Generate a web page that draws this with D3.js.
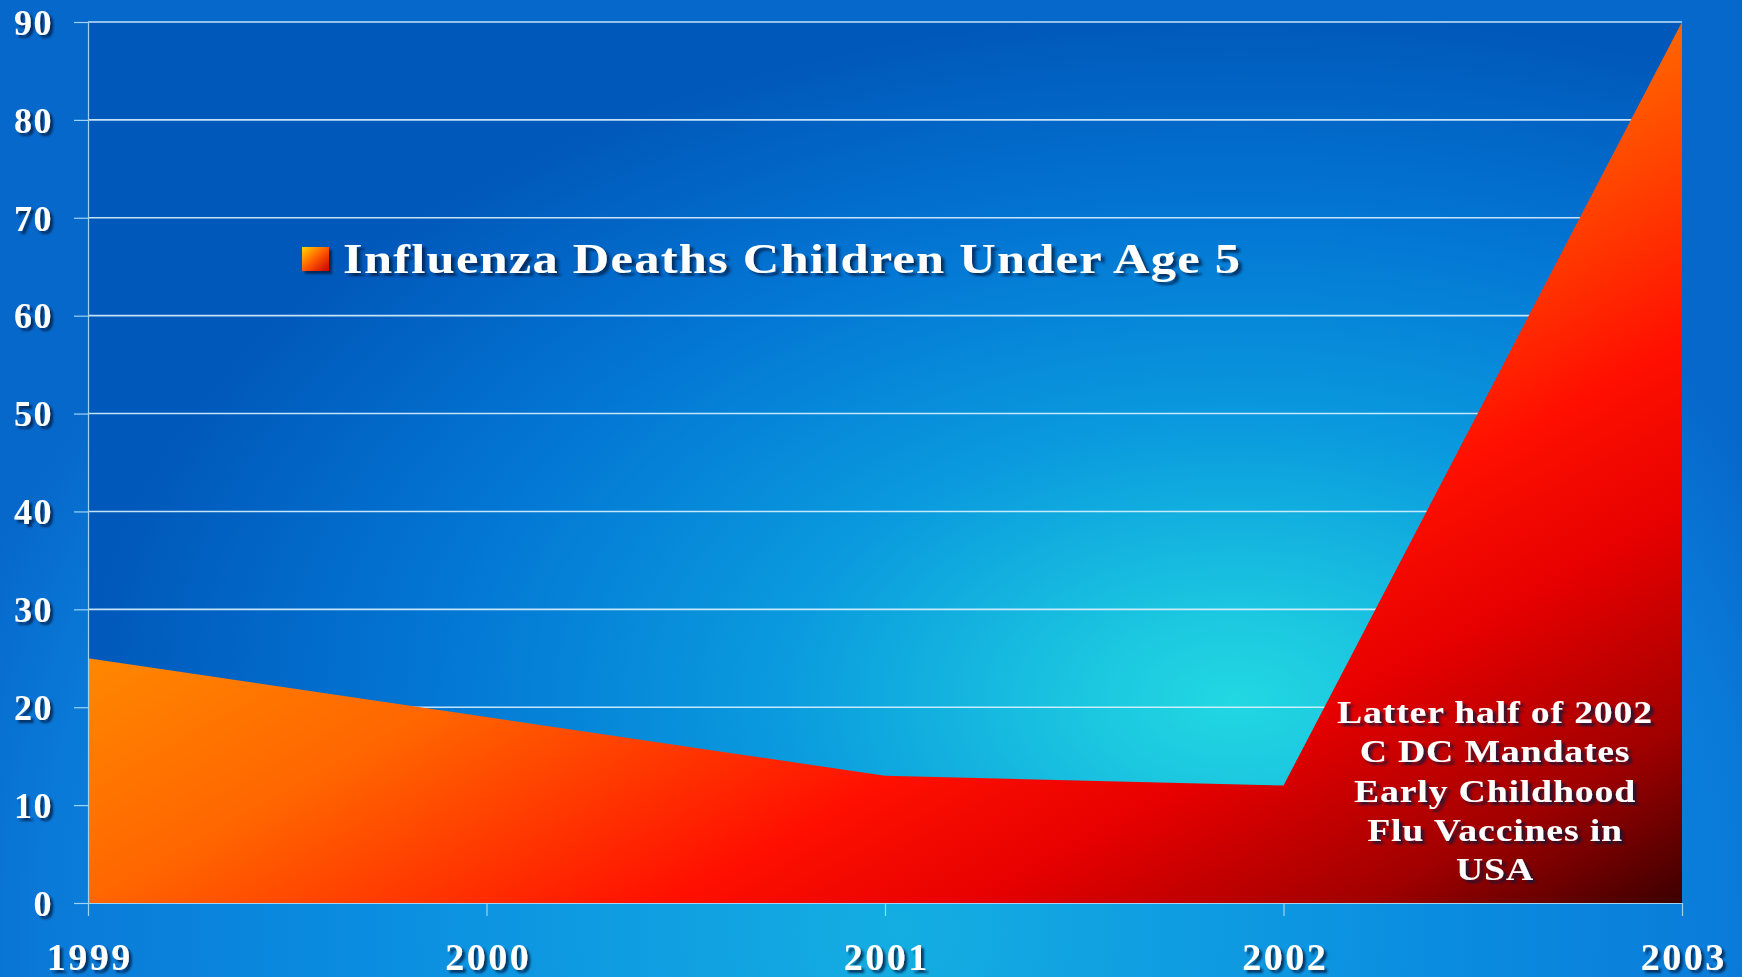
<!DOCTYPE html>
<html>
<head>
<meta charset="utf-8">
<script src="https://cdn.jsdelivr.net/npm/d3@7"></script>
<style>
  html, body { margin: 0; padding: 0; overflow: hidden; background: #0a7ad8; }
  svg { display: block; }
</style>
</head>
<body>
<script>
// ---- data ----
const years = [1999, 2000, 2001, 2002, 2003];
const deaths = [25, 19, 13, 12, 90];
const yTicks = [0, 10, 20, 30, 40, 50, 60, 70, 80, 90];
const seriesName = "Influenza Deaths Children Under Age 5";
const noteLines = ["Latter half of 2002", "C DC Mandates", "Early Childhood", "Flu Vaccines in", "USA"];

const W = 1742, H = 977;
const FONT = "'Liberation Serif', 'Times New Roman', serif";

const svg = d3.select("body").append("svg").attr("width", W).attr("height", H);
const defs = svg.append("defs");

// outer background gradient
const bg = defs.append("radialGradient").attr("id", "bgGrad")
  .attr("gradientUnits", "userSpaceOnUse")
  .attr("cx", 0).attr("cy", 0).attr("r", 1000)
  .attr("gradientTransform", "translate(900,930) scale(1,0.9)");
bg.append("stop").attr("offset", 0).attr("stop-color", "#14aee2");
bg.append("stop").attr("offset", 0.55).attr("stop-color", "#0a8ce0");
bg.append("stop").attr("offset", 0.85).attr("stop-color", "#0a7ad8");
bg.append("stop").attr("offset", 1).attr("stop-color", "#0668ca");

// plot background gradient
const pg = defs.append("radialGradient").attr("id", "plotGrad")
  .attr("gradientUnits", "userSpaceOnUse")
  .attr("cx", 0).attr("cy", 0).attr("r", 1150)
  .attr("gradientTransform", "translate(1235,700) scale(1,0.6)");
pg.append("stop").attr("offset", 0).attr("stop-color", "#22d8e2");
pg.append("stop").attr("offset", 0.12).attr("stop-color", "#1cc8e0");
pg.append("stop").attr("offset", 0.4).attr("stop-color", "#0a9ade");
pg.append("stop").attr("offset", 0.7).attr("stop-color", "#0376d4");
pg.append("stop").attr("offset", 1).attr("stop-color", "#0058ba");

// area gradient
const ag = defs.append("linearGradient").attr("id", "areaGrad")
  .attr("x1", 0).attr("y1", 0).attr("x2", 1).attr("y2", 1);
[[0.3, "#ff9600"], [0.5, "#ff6600"], [0.68, "#ff1000"], [0.78, "#e60000"],
 [0.9, "#a00000"], [1, "#3c0000"]].forEach(([o, c]) =>
  ag.append("stop").attr("offset", o).attr("stop-color", c));

// legend swatch gradient
const lg = defs.append("linearGradient").attr("id", "swGrad")
  .attr("x1", 0).attr("y1", 0).attr("x2", 1).attr("y2", 1);
lg.append("stop").attr("offset", 0).attr("stop-color", "#ffd800");
lg.append("stop").attr("offset", 0.5).attr("stop-color", "#ff5a00");
lg.append("stop").attr("offset", 1).attr("stop-color", "#c80000");

// text shadow
const f = defs.append("filter").attr("id", "shadow")
  .attr("x", "-10%").attr("y", "-30%").attr("width", "130%").attr("height", "170%");
f.append("feDropShadow").attr("dx", 3).attr("dy", 3).attr("stdDeviation", 1.2)
  .attr("flood-color", "#001a40").attr("flood-opacity", 0.75);

svg.append("rect").attr("width", W).attr("height", H).attr("fill", "url(#bgGrad)");

// scales
const x = d3.scaleLinear().domain([1999, 2003]).range([88, 1682]);
const y = d3.scaleLinear().domain([0, 90]).range([903, 22]);

svg.append("rect")
  .attr("x", x.range()[0]).attr("y", y(90))
  .attr("width", x.range()[1] - x.range()[0]).attr("height", y(0) - y(90))
  .attr("fill", "url(#plotGrad)");

// gridlines
svg.append("g").selectAll("line").data(yTicks.filter(d => d > 0)).join("line")
  .attr("x1", x(1999)).attr("x2", x(2003))
  .attr("y1", d => y(d)).attr("y2", d => y(d))
  .attr("stroke", "#d8f2ff").attr("stroke-width", 1.6).attr("stroke-opacity", 0.9);

// area
const area = d3.area().x((d, i) => x(years[i])).y0(y(0)).y1(d => y(d));
svg.append("path").datum(deaths).attr("d", area).attr("fill", "url(#areaGrad)");

// axes
const yAxis = d3.axisLeft(y).tickValues(yTicks).tickSize(14).tickSizeOuter(0);
const gy = svg.append("g").attr("transform", `translate(${x(1999)},0)`).call(yAxis);
gy.select(".domain").attr("stroke", "#9fd4f4").attr("stroke-width", 1.2);
gy.selectAll(".tick line").attr("stroke", "#9fd4f4").attr("stroke-width", 1.2);
gy.selectAll(".tick text")
  .attr("fill", "#ffffff").attr("font-family", FONT)
  .attr("font-weight", "bold").attr("font-size", 36).attr("letter-spacing", 1.5)
  .attr("filter", "url(#shadow)").attr("x", -35).attr("dy", "0.34em");

const xAxis = d3.axisBottom(x).tickValues(years).tickFormat(d3.format("d")).tickSize(13).tickSizeOuter(0);
const gx = svg.append("g").attr("transform", `translate(0,${y(0)})`).call(xAxis);
gx.select(".domain").attr("stroke", "#9fd4f4").attr("stroke-width", 1.2);
gx.selectAll(".tick line").attr("stroke", "#9fd4f4").attr("stroke-width", 1.2);
gx.selectAll(".tick text")
  .attr("fill", "#ffffff").attr("font-family", FONT)
  .attr("font-weight", "bold").attr("font-size", 38).attr("letter-spacing", 2.5)
  .attr("filter", "url(#shadow)").attr("y", 67).attr("dy", 0).attr("dx", 1.2);

// legend
const leg = svg.append("g");
leg.append("rect").attr("x", 302).attr("y", 247).attr("width", 27).attr("height", 24)
  .attr("fill", "url(#swGrad)").attr("filter", "url(#shadow)");
leg.append("g").attr("transform", "translate(343,273) scale(1.2,1)")
  .append("text").attr("x", 0).attr("y", 0)
  .attr("fill", "#ffffff").attr("font-family", FONT)
  .attr("font-weight", "bold").attr("font-size", 42)
  .attr("textLength", 897 / 1.2).attr("lengthAdjust", "spacing")
  .attr("filter", "url(#shadow)").text(seriesName);

// annotation
const note = svg.append("g").attr("transform", "translate(1495,0) scale(1.18,1)")
  .append("text")
  .attr("fill", "#ffffff").attr("font-family", FONT)
  .attr("font-weight", "bold").attr("font-size", 32).attr("letter-spacing", 0.7)
  .attr("text-anchor", "middle").attr("filter", "url(#shadow)");
note.selectAll("tspan").data(noteLines).join("tspan")
  .attr("x", 0).attr("y", (d, i) => 723 + i * 39.3).text(d => d);
</script>
</body>
</html>
